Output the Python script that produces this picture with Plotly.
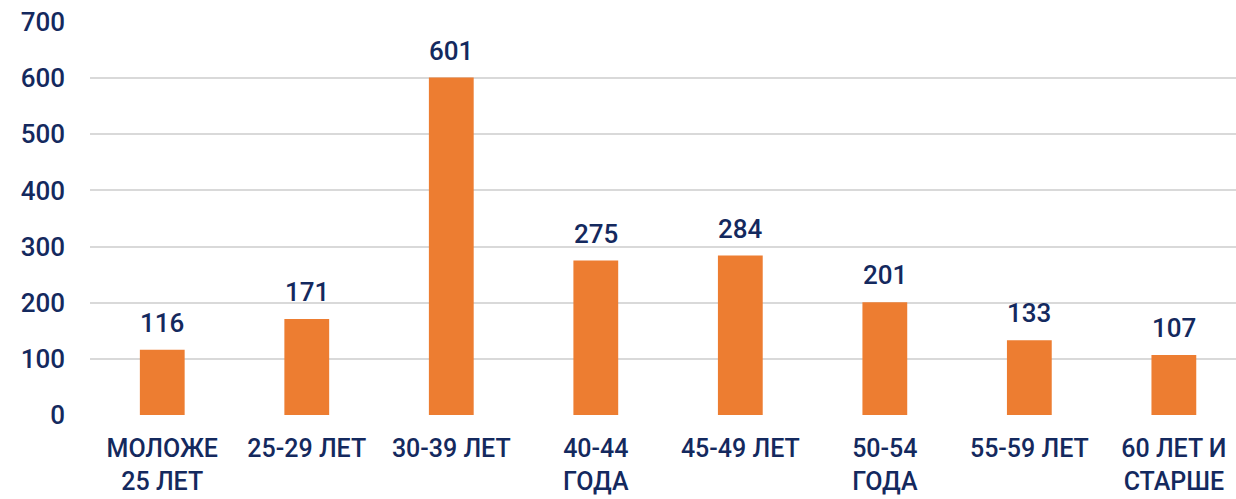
import plotly.graph_objects as go

categories = ["МОЛОЖЕ<br>25 ЛЕТ", "25-29 ЛЕТ", "30-39 ЛЕТ", "40-44<br>ГОДА",
              "45-49 ЛЕТ", "50-54<br>ГОДА", "55-59 ЛЕТ", "60 ЛЕТ И<br>СТАРШЕ"]
values = [116, 171, 601, 275, 284, 201, 133, 107]
y_ticks = [0, 100, 200, 300, 400, 500, 600, 700]

NAVY = "#14295E"
ORANGE = "#ED7D31"
FONT = "Roboto"
W = 500

fig = go.Figure()
fig.add_trace(go.Bar(
    x=categories, y=values, width=0.31,
    marker=dict(color=ORANGE, line=dict(width=0)),
    cliponaxis=False, hoverinfo="skip",
))
for c, v in zip(categories, values):
    fig.add_annotation(
        x=c, y=v, text=str(v), showarrow=False, yanchor="bottom", yshift=10,
        font=dict(family=FONT, size=26, color=NAVY, weight=W),
    )
fig.update_layout(
    width=1236, height=499,
    margin=dict(l=90, r=0, t=22, b=84),
    plot_bgcolor="white", paper_bgcolor="white",
    showlegend=False,
    font=dict(family=FONT, color=NAVY, size=26),
)
fig.update_xaxes(
    range=[-0.5, 7.43], showgrid=False, showline=False, zeroline=False,
    tickfont=dict(family=FONT, size=25, color=NAVY, weight=W),
    ticks="outside", ticklen=11, tickcolor="rgba(0,0,0,0)",
    automargin=False,
)
fig.update_yaxes(
    range=[0, 700], tickvals=y_ticks, showgrid=True, gridcolor="#D9D9D9",
    gridwidth=2, zeroline=False, showline=False,
    tickfont=dict(family=FONT, size=26, color=NAVY, weight=W),
    ticklabelstandoff=24, ticklabeloverflow="allow", automargin=False,
)
fig.write_html("out.html", config={"displayModeBar": False},
               post_script="document.body.style.margin='0';")
